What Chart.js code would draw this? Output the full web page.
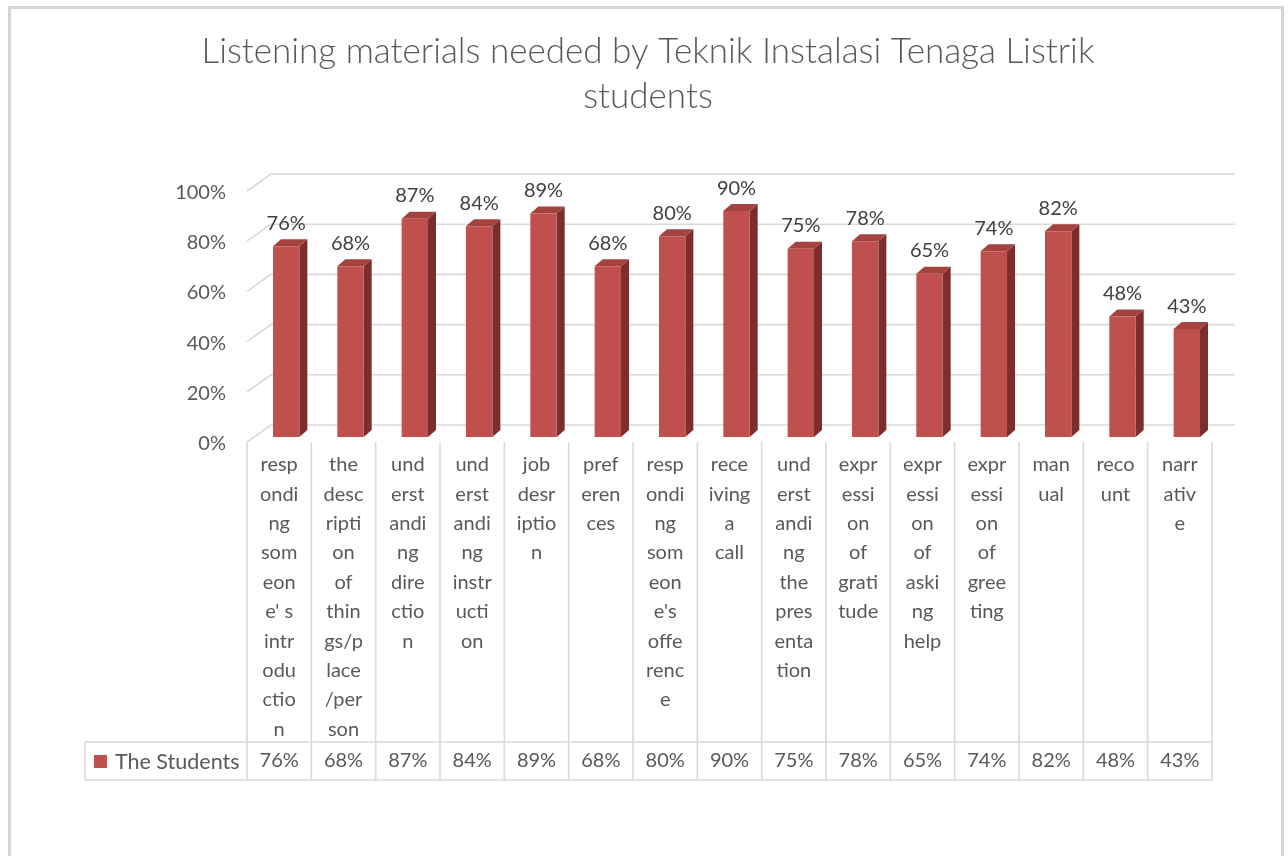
<!DOCTYPE html>
<html><head><meta charset="utf-8">
<script src="https://cdn.jsdelivr.net/npm/chart.js@4.4.1/dist/chart.umd.min.js"></script>
<style>html,body{margin:0;padding:0;background:#fff;}#wrap{width:1288px;height:856px;position:relative;}</style>
</head><body><div id="wrap"><canvas id="c" width="1288" height="856"></canvas></div>
<script>
const titleLines = ['Listening materials needed by Teknik Instalasi Tenaga Listrik', 'students'];
const seriesName = 'The Students';
const categories = [
  ['resp','ondi','ng','som','eon',"e' s",'intr','odu','ctio','n'],
  ['the','desc','ripti','on','of','thin','gs/p','lace','/per','son'],
  ['und','erst','andi','ng','dire','ctio','n'],
  ['und','erst','andi','ng','instr','ucti','on'],
  ['job','desr','iptio','n'],
  ['pref','eren','ces'],
  ['resp','ondi','ng','som','eon',"e's",'offe','renc','e'],
  ['rece','iving','a','call'],
  ['und','erst','andi','ng','the','pres','enta','tion'],
  ['expr','essi','on','of','grati','tude'],
  ['expr','essi','on','of','aski','ng','help'],
  ['expr','essi','on','of','gree','ting'],
  ['man','ual'],
  ['reco','unt'],
  ['narr','ativ','e']
];
const values = [76, 68, 87, 84, 89, 68, 80, 90, 75, 78, 65, 74, 82, 48, 43];
const yTickValues = [0, 20, 40, 60, 80, 100];
const yTickLabels = ['0%', '20%', '40%', '60%', '80%', '100%'];

const FONT = 'Lato';
const TEXT = '#595959';
const LABEL = '#404040';
const GRID = '#d9d9d9';
const RED = '#c0504d';
const SIDE = '#7d2e2c';
const TOP = '#a3423f';

const depthPlugin = {
  id: 'depth',
  beforeDraw(chart) {
    const ctx = chart.ctx;
    ctx.save();
    ctx.fillStyle = '#fff';
    ctx.fillRect(0, 0, chart.width, chart.height);
    ctx.strokeStyle = '#d6d6d6';
    ctx.lineWidth = 3;
    ctx.strokeRect(9.5, 7.5, 1273, 900);
    ctx.restore();
  },
  beforeDatasetsDraw(chart) {
    const ctx = chart.ctx, a = chart.chartArea, ys = chart.scales.y;
    ctx.save();
    ctx.strokeStyle = GRID;
    ctx.lineWidth = 1.6;
    yTickValues.forEach(v => {
      const yf = ys.getPixelForValue(v);
      const yb = yf - 12;
      ctx.beginPath();
      ctx.moveTo(a.left - 7, yf + 5);
      ctx.lineTo(a.left + 17, yb);
      ctx.lineTo(a.right + 16, yb);
      ctx.stroke();
    });
    const meta = chart.getDatasetMeta(0);
    const dx = 8, dy = -7;
    meta.data.forEach(bar => {
      const p = bar.getProps(['x', 'y', 'base', 'width'], true);
      const l = p.x - p.width / 2, r = p.x + p.width / 2;
      ctx.fillStyle = SIDE;
      ctx.beginPath();
      ctx.moveTo(r, p.y); ctx.lineTo(r + dx, p.y + dy);
      ctx.lineTo(r + dx, p.base + dy); ctx.lineTo(r, p.base);
      ctx.closePath(); ctx.fill();
      ctx.fillStyle = TOP;
      ctx.beginPath();
      ctx.moveTo(l, p.y); ctx.lineTo(l + dx, p.y + dy);
      ctx.lineTo(r + dx, p.y + dy); ctx.lineTo(r, p.y);
      ctx.closePath(); ctx.fill();
    });
    ctx.restore();
  },
  afterDatasetsDraw(chart) {
    const ctx = chart.ctx;
    const meta = chart.getDatasetMeta(0);
    ctx.save();
    ctx.fillStyle = LABEL;
    ctx.font = '20px ' + FONT;
    ctx.textAlign = 'center';
    ctx.textBaseline = 'middle';
    meta.data.forEach((bar, i) => {
      const p = bar.getProps(['x', 'y'], true);
      ctx.fillText(values[i] + '%', p.x, p.y - 23);
    });
    ctx.restore();
  },
  afterDraw(chart) {
    const ctx = chart.ctx, a = chart.chartArea, xs = chart.scales.x;
    const n = categories.length;
    const colW = (a.right - a.left) / n;
    const x0 = a.left - 7;
    const rowTop = xs.bottom, rowBot = xs.bottom + 38;
    const tableLeft = 85;
    ctx.save();
    ctx.strokeStyle = GRID;
    ctx.lineWidth = 1.6;
    ctx.beginPath();
    for (let k = 0; k <= n; k++) {
      const x = x0 + k * colW;
      ctx.moveTo(x, a.bottom + 5);
      ctx.lineTo(x, rowBot);
    }
    ctx.moveTo(tableLeft, rowTop); ctx.lineTo(x0 + n * colW, rowTop);
    ctx.moveTo(tableLeft, rowBot); ctx.lineTo(x0 + n * colW, rowBot);
    ctx.moveTo(tableLeft, rowTop); ctx.lineTo(tableLeft, rowBot);
    ctx.stroke();
    ctx.fillStyle = TEXT;
    ctx.font = '20px ' + FONT;
    ctx.textBaseline = 'middle';
    ctx.textAlign = 'center';
    values.forEach((v, i) => ctx.fillText(v + '%', x0 + (i + 0.5) * colW, (rowTop + rowBot) / 2));
    ctx.textAlign = 'left';
    ctx.font = '21.5px ' + FONT;
    ctx.fillText(seriesName, 115, (rowTop + rowBot) / 2 + 1);
    ctx.fillStyle = RED;
    ctx.fillRect(94, 755, 13, 13);
    ctx.restore();
  }
};

new Chart(document.getElementById('c'), {
  type: 'bar',
  data: {
    labels: categories,
    datasets: [{
      label: seriesName,
      data: values,
      backgroundColor: RED,
      borderWidth: 0,
      barPercentage: 0.41,
      categoryPercentage: 1
    }]
  },
  options: {
    responsive: false,
    animation: false,
    events: [],
    layout: { padding: { left: 8, right: 0, top: 0, bottom: 114 } },
    plugins: {
      legend: { display: false },
      tooltip: { enabled: false },
      title: {
        display: true,
        text: titleLines,
        color: TEXT,
        font: { family: FONT, size: 35, weight: 300, lineHeight: 45 / 35 },
        padding: { top: 29.5, bottom: 66.5 }
      }
    },
    scales: {
      x: {
        grid: { display: false, drawTicks: false },
        border: { display: false },
        ticks: {
          padding: 13, labelOffset: -7, color: TEXT, autoSkip: false, maxRotation: 0, minRotation: 0,
          font: { family: FONT, size: 20, lineHeight: 1.47 }
        },
        afterFit: s => { s.height = 305; }
      },
      y: {
        min: 0, max: 100, position: 'left',
        grid: { display: false, drawTicks: false },
        border: { display: false },
        ticks: {
          stepSize: 20, padding: 28, labelOffset: 6.5, color: TEXT,
          font: { family: FONT, size: 20 },
          callback: v => yTickLabels[yTickValues.indexOf(v)]
        },
        afterFit: s => { s.width = 246; }
      },
      y2: {
        position: 'right', display: true,
        grid: { display: false, drawTicks: false },
        border: { display: false },
        ticks: { display: false },
        afterFit: s => { s.width = 69; }
      }
    }
  },
  plugins: [depthPlugin]
});
</script>
</body></html>
